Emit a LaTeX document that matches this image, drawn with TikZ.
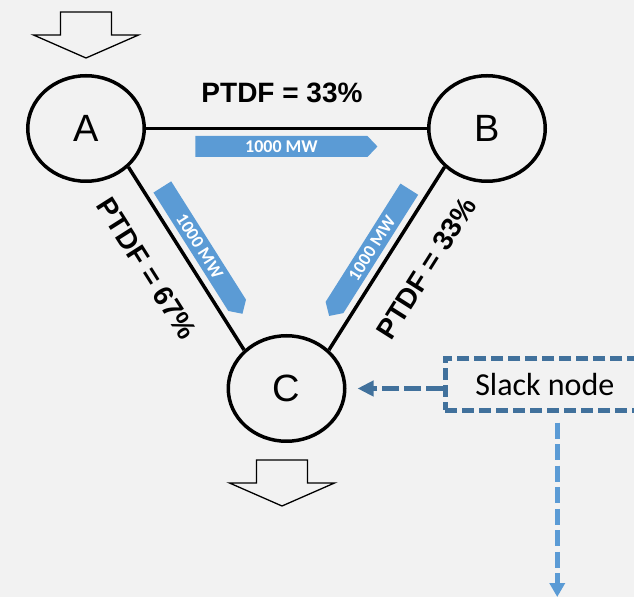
\documentclass[tikz,border=0pt]{standalone}
\usepackage{fontspec}
\setmainfont{Liberation Sans}
\newfontfamily\calibrifont{Carlito}
\usetikzlibrary{shapes.geometric,calc,arrows.meta}
\pgfdeclarelayer{canvaslayer}
\pgfdeclarelayer{flowlayer}
\pgfsetlayers{canvaslayer,flowlayer,main}
\definecolor{canvas}{HTML}{F2F2F2}
\definecolor{flowblue}{HTML}{5B9BD5}
\definecolor{slackblue}{HTML}{41719C}
% blue flow arrow drawn around a body node, tip on its east or west side
\newcommand\flowtipeast[1]{\fill[flowblue] (#1.north west) -- (#1.north east) -- ($(#1.east)!-10pt!(#1.west)$) -- (#1.south east) -- (#1.south west) -- cycle;}
\newcommand\flowtipwest[1]{\fill[flowblue] (#1.north east) -- (#1.north west) -- ($(#1.west)!-10pt!(#1.east)$) -- (#1.south west) -- (#1.south east) -- cycle;}
\tikzset{
  bus/.style={ellipse, draw, line width=3.5pt, minimum width=116.5pt, minimum height=105.5pt,
    inner sep=0pt, font=\fontsize{38}{44}\selectfont},
  wire/.style={line width=3.5pt},
  ptdf/.style={sloped, inner sep=0pt, font=\bfseries\fontsize{28}{32}\selectfont},
  flowbody/.style={sloped, minimum width=140pt, minimum height=21pt, inner sep=0pt,
    outer sep=0pt, text=white, font=\calibrifont\bfseries\fontsize{18}{20}\selectfont},
  inflow/.pic={\draw[line width=1.3pt, fill=canvas, line join=miter]
    (0,0) -- (-52.5,23) -- (-25.5,23) -- (-25.5,46) -- (25.5,46) -- (25.5,23) -- (52.5,23) -- cycle;},
  slackbox/.style={draw=slackblue, line width=4.5pt, dash pattern=on 12pt off 5pt,
    minimum height=52pt, inner xsep=30pt,
    font=\calibrifont\fontsize{32}{38}\selectfont},
  slacklink/.style={draw=slackblue, line width=5pt, dash pattern=on 17pt off 5pt,
    -{Triangle[width=15pt,length=16pt]}},
  droplink/.style={draw=flowblue, line width=5pt, dash pattern=on 16pt off 5.5pt,
    -{Triangle[width=15pt,length=14pt]}},
}
\begin{document}
\begin{tikzpicture}[x=1pt,y=1pt]
\useasboundingbox (0,0) rectangle (634,597);
\begin{pgfonlayer}{canvaslayer}
  \fill[canvas] (0,0) rectangle (634,597);
\end{pgfonlayer}
\clip (0,0) rectangle (634,597);

% buses
\node[bus] (A) at (86,468.5) {A};
\node[bus] (B) at (487,468.5) {B};
\node[bus] (C) at (286.5,208.5) {C};

% injection and withdrawal
\pic at ([yshift=16pt]A.north) {inflow};
\pic at ([xshift=-4.5pt,yshift=-63pt]C.south) {inflow};

% lines with flows and PTDF labels
\draw[wire] (A.east) -- (B.west)
  node[flowbody, pos=0.482, below=7.5pt, minimum width=172pt] (fAB) {1000 MW}
  node[ptdf, pos=0.484, above=23.5pt] (lAB) {PTDF = 33\%};
\draw[wire] (A.south east) -- (C.north west)
  node[flowbody, pos=0.485, above=7.5pt] (fAC) {1000 MW}
  node[ptdf, pos=0.443, below=27pt] (lAC) {PTDF = 67\%};
\draw[wire] (B.south west) -- (C.north east)
  node[flowbody, pos=0.497, above=7.5pt] (fBC) {1000 MW}
  node[ptdf, pos=0.44, below=27pt] (lBC) {PTDF = 33\%};

\begin{pgfonlayer}{flowlayer}
  \flowtipeast{fAB}
  \flowtipeast{fAC}
  \flowtipwest{fBC}
\end{pgfonlayer}

% slack node
\node[slackbox, anchor=west] (slack) at (443,212.5) {\makebox[164pt][l]{Slack node}};
\coordinate (drop) at (555,0);
\draw[slacklink, shorten >=11pt] (slack.west |- C.east) -- (C.east);
\draw[droplink, shorten <=10pt] (slack.south) -- (slack.south |- drop);
\end{tikzpicture}
\end{document}
